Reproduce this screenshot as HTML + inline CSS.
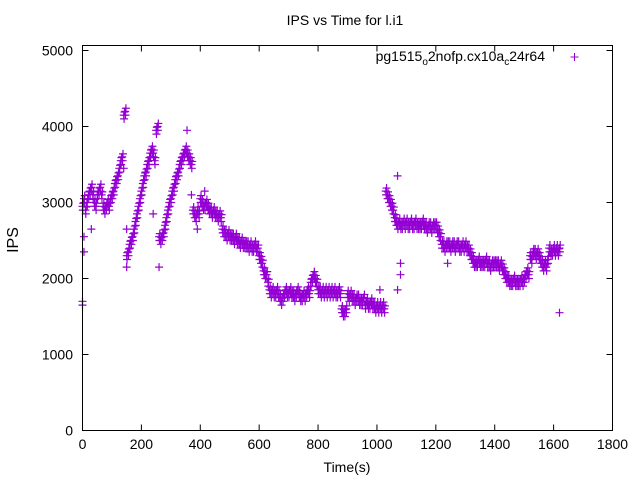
<!DOCTYPE html>
<html><head><meta charset="utf-8">
<style>
body{margin:0;background:#fff;}
svg{display:block;font-family:"Liberation Sans",sans-serif;}
</style></head>
<body>
<svg id="chart" width="640" height="480" viewBox="0 0 640 480">
<rect width="640" height="480" fill="#fff"/>
<text x="345" y="25" font-size="14" text-anchor="middle">IPS vs Time for l.i1</text>
<text x="18" y="240" font-size="16" text-anchor="middle" transform="rotate(-90 18 240)">IPS</text>
<text x="347" y="472" font-size="14" text-anchor="middle">Time(s)</text>
<g id="axes"></g>
<g id="points"></g>
<g>
<text x="545" y="61" font-size="14" text-anchor="end">pg1515<tspan font-size="10" dy="4">o</tspan><tspan dy="-4">2nofp.cx10a</tspan><tspan font-size="10" dy="4">c</tspan><tspan dy="-4">24r64</tspan></text>
<path d="M570.5 57h8M574.5 53v8" stroke="#9400d3" stroke-width="1"/>
</g>
<rect x="82.5" y="45.5" width="530" height="385" fill="none" stroke="#000" stroke-width="1"/>
</svg>
<script>
const xTicks=[0,200,400,600,800,1000,1200,1400,1600,1800];
const yTicks=[0,1000,2000,3000,4000,5000];
const tStart=0, tStep=5;
const ipsValues=[
2950,3050,2900,3000,3100,3150,3200,3100,3000,2950,3100,3150,3200,3100,2950,2900,2950,3000,2950,3050,
3100,3150,3250,3300,3350,3450,3550,3600,4150,4200,2300,2350,2450,2500,2550,2650,2750,2850,2950,3050,
3150,3250,3350,3400,3500,3550,3650,3700,3650,3550,3950,4000,2550,2500,2550,2600,2700,2800,2900,3000,
3050,3150,3200,3300,3350,3400,3500,3550,3600,3650,3700,3650,3600,3550,3500,2900,2850,2800,2900,2850,
3050,3000,2950,2950,3000,2950,2900,2900,2850,2900,2850,2850,2800,2850,2800,2650,2600,2600,2550,2600,
2550,2550,2550,2500,2550,2500,2500,2450,2500,2450,2450,2450,2450,2400,2450,2400,2400,2450,2400,2400,
2300,2250,2200,2100,2050,2050,1950,1850,1800,1850,1800,1800,1850,1800,1750,1700,1750,1800,1850,1800,
1800,1850,1800,1800,1750,1800,1850,1800,1750,1750,1800,1750,1800,1850,1800,1950,2000,2050,2000,1950,
1850,1850,1800,1850,1800,1850,1800,1850,1800,1850,1800,1850,1800,1800,1850,1800,1600,1550,1550,1600,
1800,1750,1800,1750,1750,1700,1750,1750,1700,1700,1700,1750,1650,1700,1650,1650,1700,1650,1650,1600,
1650,1600,1650,1600,1650,1600,3150,3100,3050,3000,2950,2900,2800,2750,2700,2750,2700,2700,2750,2700,
2750,2700,2700,2750,2700,2700,2750,2700,2700,2700,2700,2750,2700,2700,2650,2700,2700,2650,2700,2700,
2700,2650,2600,2550,2450,2450,2400,2450,2450,2450,2400,2450,2450,2400,2450,2450,2400,2400,2450,2400,
2450,2400,2400,2350,2300,2250,2200,2200,2200,2250,2200,2200,2200,2200,2250,2200,2200,2150,2200,2200,
2200,2200,2200,2150,2200,2150,2100,2050,2000,2000,1950,1950,1950,2000,1950,1950,1950,1950,2000,1950,
2000,2050,2100,2050,2300,2250,2350,2350,2300,2350,2300,2250,2200,2150,2200,2150,2250,2400,2350,2350,
2400,2350,2400,2350,2400];
const outlierTimes=[0,0,5,5,30,140,150,150,260,240,355,390,370,415,1070,1080,1080,1070,1010,1240,1620];
const outlierValues=[1650,1700,2350,2550,2650,3450,2150,2650,2150,2850,3950,2650,3100,3150,3350,2200,2050,1850,1850,2200,1550];

const NS="http://www.w3.org/2000/svg";
const X0=82.5,X1=612.5,Y0=430.5,PXPER=0.076;
function xs(t){return X0+(t-0)/1800*(X1-X0);}
function ys(v){return Y0-v*PXPER;}
const axes=document.getElementById('axes');
xTicks.forEach(t=>{
  const x=xs(t);
  const p=document.createElementNS(NS,'path');
  p.setAttribute('d',`M${x} 430.5v-6M${x} 45.5v6`);
  p.setAttribute('stroke','#000');
  
  
  axes.appendChild(p);
  const tx=document.createElementNS(NS,'text');
  tx.setAttribute('x',x);tx.setAttribute('y',449);
  tx.setAttribute('font-size','14');tx.setAttribute('text-anchor','middle');
  
  
  tx.textContent=t;axes.appendChild(tx);
});
yTicks.forEach(v=>{
  const y=ys(v);
  const p=document.createElementNS(NS,'path');
  p.setAttribute('d',`M82.5 ${y}h6M612.5 ${y}h-6`);
  p.setAttribute('stroke','#000');
  
  
  axes.appendChild(p);
  const tx=document.createElementNS(NS,'text');
  tx.setAttribute('x',73);tx.setAttribute('y',y+5);
  tx.setAttribute('font-size','14');tx.setAttribute('text-anchor','end');
  
  
  tx.textContent=v;axes.appendChild(tx);
});
const pts=document.getElementById('points');
function mark(t,v){
  const x=xs(t),y=ys(v);
  const p=document.createElementNS(NS,'path');
  p.setAttribute('d',`M${x-4} ${y}h8M${x} ${y-4}v8`);
  p.setAttribute('stroke','#9400d3');
  p.setAttribute('stroke-width','1.2');
  
  
  pts.appendChild(p);
}
ipsValues.forEach((v,i)=>{
  const t=tStart+i*tStep;
  mark(t,v);
  mark(t+2.5,v+40);
  mark(t+1.2,v-50);
});
outlierTimes.forEach((t,i)=>mark(t,outlierValues[i]));
</script>
</body></html>
